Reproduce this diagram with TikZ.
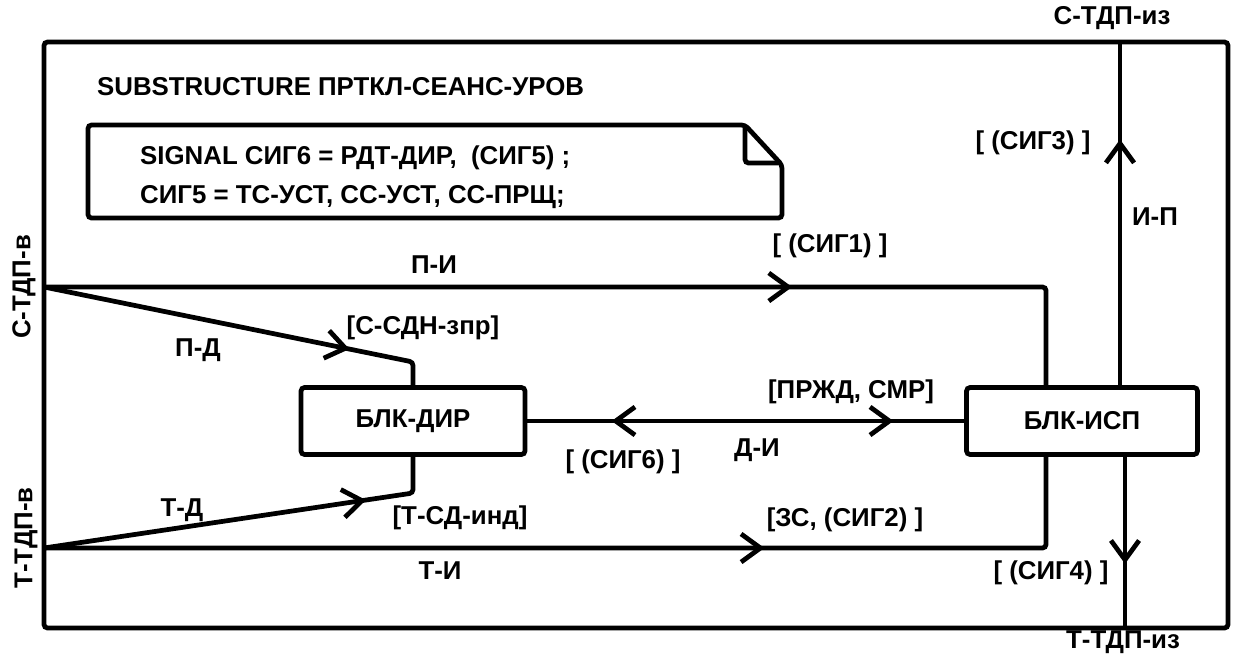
\documentclass[tikz,border=0pt]{standalone}
\usepackage{fontspec}
\setmainfont{Liberation Sans}
\usetikzlibrary{positioning,calc,decorations.markings,arrows.meta}

\tikzset{
  wire/.style={line width=2.7pt, rounded corners=2pt},
  blk/.style={draw, line width=2.7pt, rounded corners=2pt, minimum width=#1, minimum height=1.34cm},
  midarrow/.style={postaction={decorate}, decoration={markings,
      mark=at position #1 with {\arrow{Straight Barb[length=11pt,width=16pt]}}}},
  twoarrows/.style 2 args={postaction={decorate}, decoration={markings,
      mark=at position #1 with {\arrowreversed{Straight Barb[length=11pt,width=16pt]}},
      mark=at position #2 with {\arrow{Straight Barb[length=11pt,width=16pt]}}}},
}

\begin{document}
\begin{tikzpicture}[x=0.02cm, y=-0.02cm, font=\bfseries\fontsize{14.7}{22}\selectfont]
    \useasboundingbox (0,0) rectangle (1260,660);
    % frame and note
    \draw[wire] (44,42) rectangle (1228,628);
    \node[anchor=west] (title) at (91,87) {SUBSTRUCTURE ПРТКЛ-СЕАНС-УРОВ};
    \draw[wire] (88,125) -- (745,125) -- (782,165) -- (782,218) -- (88,218) -- cycle;
    \draw[wire] (745,125) -- (745,163) -- (778,163);
    \node[anchor=west, align=left] (sig) at (134,177) {SIGNAL СИГ6 = РДТ-ДИР,\ \ (СИГ5)\ ;\\СИГ5 = ТС-УСТ, СС-УСТ, СС-ПРЩ;};
    % blocks
    \node[blk=4.48cm] (dir) at (413,421) {БЛК-ДИР};
    \node[blk=4.62cm] (isp) at (1082,421) {БЛК-ИСП};
    \coordinate (sin) at (44,287);
    \coordinate (tin) at (44,548);
    \coordinate (sout) at (1120,42);
    \coordinate (tout) at (1125,628);
    % channels
    \draw[wire, midarrow=0.681] (sin) -| ([xshift=-0.72cm]isp.north);
    \draw[wire, midarrow=0.782] (sin) -- (413,362) -- (dir.north);
    \draw[wire, midarrow=0.798] (tin) -- (413,493) -- (dir.south);
    \draw[wire, midarrow=0.66] (tin) -| ([xshift=-0.72cm]isp.south);
    \draw[wire, twoarrows={0.193}{0.838}] (dir.east) -- (isp.west);
    \draw[wire, midarrow=0.716] (isp.north -| sout) -- (sout);
    \draw[wire, midarrow=0.625] (isp.south -| tout) -- (tout);
    % labels
    \node (pi) at (434,265) {П-И};
    \node (sig1) at (830,246) {[ (СИГ1) ]};
    \node (ssdn) at (423,328) {[С-СДН-зпр]};
    \node (pd) at (198,350) {П-Д};
    \node (td) at (182,510) {Т-Д};
    \node (tsd) at (460,518) {[Т-СД-инд]};
    \node (ti) at (440,571) {Т-И};
    \node (sig6) at (623,462) {[ (СИГ6) ]};
    \node (di) at (757,450) {Д-И};
    \node (przd) at (851,392) {[ПРЖД, СМР]};
    \node (sig2) at (845,520) {[ЗС, (СИГ2) ]};
    \node (sig4) at (1051,573) {[ (СИГ4) ]};
    \node (sig3) at (1033,143) {[ (СИГ3) ]};
    \node (ip) at (1155,217) {И-П};
    \node (toutlab) at (1123,642) {Т-ТДП-из};
    \node (soutlab) at (1112,18) {С-ТДП-из};
    \node[rotate=90] (sinlab) at (24,287) {С-ТДП-в};
    \node[rotate=90] (tinlab) at (26,538) {Т-ТДП-в};
\end{tikzpicture}
\end{document}
